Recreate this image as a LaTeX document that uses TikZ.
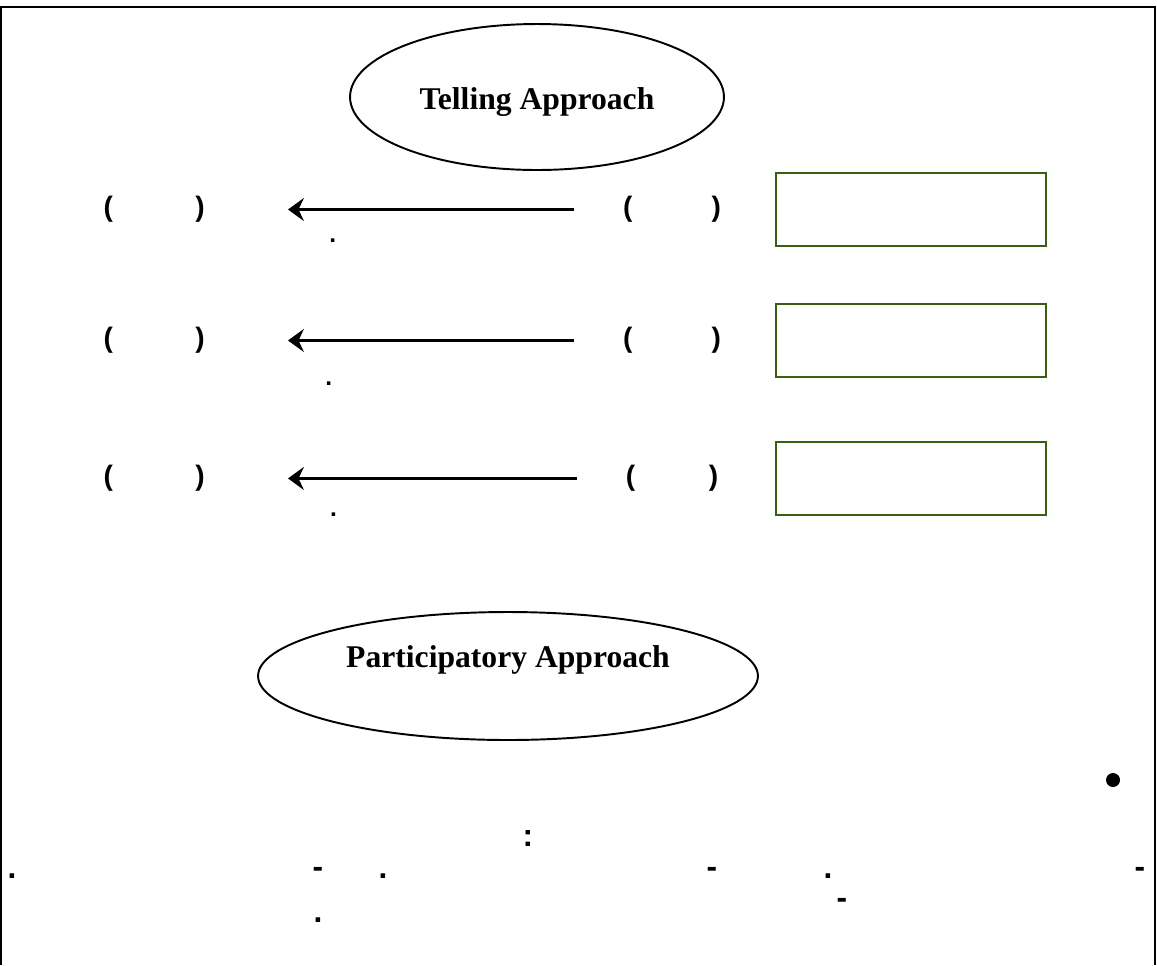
\documentclass[tikz,border=0pt]{standalone}
\usepackage{fontspec}
\setmainfont{Liberation Serif}
\setsansfont{Liberation Sans}
\usetikzlibrary{shapes,arrows,arrows.meta,positioning}
\definecolor{boxgreen}{RGB}{56,96,16}
\tikzstyle{block} = [rectangle, draw=boxgreen, line width=1.2pt,
    minimum width=5.4cm, minimum height=1.46cm]
\tikzstyle{line} = [draw, line width=1.5pt, -{Stealth[length=9pt, width=13pt, inset=3pt]}]
\tikzstyle{cloud} = [draw, ellipse, line width=1.1pt, inner sep=0pt,
    font=\fontsize{18}{20}\selectfont\bfseries]
\tikzstyle{brackets} = [font=\sffamily\bfseries\fontsize{16}{18}\selectfont]
\tikzstyle{punct} = [font=\sffamily\bfseries\fontsize{18}{20}\selectfont, inner sep=0pt, anchor=base]
\tikzstyle{smalldot} = [font=\sffamily\bfseries\fontsize{14}{14}\selectfont, inner sep=0pt]

\begin{document}
\begin{tikzpicture}[x=0.02cm, y=-0.02cm, node distance = 2cm, auto]
        \useasboundingbox (0,0) rectangle (1157,965);

        % frame
        \draw [line width=1pt] (1,965) -- (1,7) -- (1155,7) -- (1155,965);

        % Place nodes
        \node [cloud, minimum width=7.48cm, minimum height=2.92cm, text height=18pt] (telling) at (537,97) {Telling Approach};
        \node [block] (box1) at (911,209.5) {};
        \node [block, below of=box1, node distance=2.62cm] (box2) {};
        \node [block, below of=box2, node distance=2.76cm] (box3) {};
        \node [brackets, left of=box1, node distance=4.78cm] (rp1) {(\hspace{45pt})};
        \node [brackets, left of=box2, node distance=4.78cm] (rp2) {(\hspace{45pt})};
        \node [brackets, left of=box3, node distance=4.78cm] (rp3) {(\hspace{42pt})};
        \node [brackets, left of=rp1, node distance=10.36cm] (lp1) {(\hspace{47pt})};
        \node [brackets, left of=rp2, node distance=10.36cm] (lp2) {(\hspace{47pt})};
        \node [brackets, left of=rp3, node distance=10.36cm] (lp3) {(\hspace{47pt})};
        \node [cloud, minimum width=10cm, minimum height=2.56cm, text depth=22pt] (particip) at (508,676) {Participatory Approach};

        % Draw edges
        \path [line, shorten <=0.86cm, shorten >=1.54cm] (rp1.west) -- node [smalldot, pos=0.7, below=0.56cm] {.} (lp1.east);
        \path [line, shorten <=0.86cm, shorten >=1.54cm] (rp2.west) -- node [smalldot, pos=0.71, below=0.8cm] {.} (lp2.east);
        \path [line, shorten <=0.86cm, shorten >=1.54cm] (rp3.west) -- node [smalldot, pos=0.7, below=0.66cm] {.} (lp3.east);

        % bottom lines
        \node [circle, fill, inner sep=0pt, minimum size=0.28cm] (bullet) at (1113,780) {};
        \node [punct] (colon) at (528,846) {:};
        \node [punct] (d1) at (12,878) {.};
        \node [punct] (d2) at (318,877) {-};
        \node [punct] (d3) at (383,878) {.};
        \node [punct] (d4) at (712,877) {-};
        \node [punct] (d5) at (828,878) {.};
        \node [punct] (d6) at (1140,877) {-};
        \node [punct] (d7) at (318,922) {.};
        \node [punct] (d8) at (842,908) {-};
    \end{tikzpicture}
\end{document}
